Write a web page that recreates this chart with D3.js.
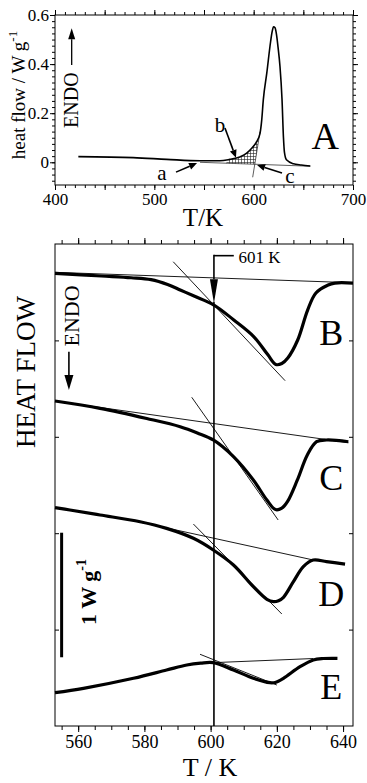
<!DOCTYPE html>
<html>
<head>
<meta charset="utf-8">
<script src="https://cdn.jsdelivr.net/npm/d3@7"></script>
<style>
  body { margin: 0; background: #fff; }
  svg { display: block; font-family: "Liberation Serif", "Times New Roman", serif; }
</style>
</head>
<body>
<svg id="chart" width="367" height="783"></svg>
<script>
// ---- panel A : full scan, heat flow in W/g ----
const scanCurve = [
  [423.5, 0.023], [478.8, 0.019], [512.4, 0.012], [546, 0.006], [566, 0.006],
  [576, 0.012], [586, 0.022], [593, 0.037], [598, 0.057], [603, 0.084],
  [606.4, 0.118], [608.1, 0.172], [609.7, 0.254], [613.2, 0.363], [617, 0.49],
  [618.5, 0.53], [620, 0.552], [621.5, 0.548], [623, 0.52], [624.5, 0.47],
  [626.5, 0.39], [628.5, 0.26], [630, 0.1], [631, 0.04], [633, 0.01],
  [640, -0.006], [648, -0.011], [657, -0.015]
];
const scanBaseline = [[546, 0.0], [657, -0.016]];
const scanOnset = [[606.4, 0.125], [599.0, -0.061]];
const hatchStart = 572;

const scanXTicks = [400, 500, 600, 700];
const scanYTicks = [0, 0.2, 0.4, 0.6];

// letters a, b, c : label position, arrow start, arrow tip
const scanNotes = [
  { text: 'a', at: [507.7, -0.072], from: [521.8, -0.04], to: [543, -0.003] },
  { text: 'b', at: [566.1, 0.123], from: [571.1, 0.14], to: [582.2, 0.018] },
  { text: 'c', at: [636.6, -0.084], from: [628.5, -0.044], to: [603.4, -0.011] }
];

// ---- panel B-E : heat flow (arbitrary offset units, 1 W/g = 1.29) ----
const curveB = [
  [553, 4.696], [567, 4.668], [576, 4.65], [582, 4.63], [587, 4.58], [591, 4.52],
  [595, 4.46], [601, 4.367], [607, 4.212], [613, 4.04], [617.3, 3.85], [619.7, 3.75],
  [621.5, 3.76], [623.3, 3.817], [626.3, 4.004], [629.3, 4.315], [631.8, 4.492],
  [635.5, 4.575], [637.5, 4.595], [643, 4.595]
];
const curveC = [
  [553, 3.371], [566.6, 3.295], [580.7, 3.19], [590.8, 3.105], [596, 3.04],
  [600.8, 2.967], [606.9, 2.794], [612.9, 2.552], [617, 2.344], [619.6, 2.245],
  [621.5, 2.26], [623.2, 2.327], [626.2, 2.552], [629.2, 2.811], [632, 2.949],
  [635, 2.967], [641.6, 2.949]
];
const curveD = [
  [553, 2.265], [557.5, 2.241], [566.6, 2.189], [578.7, 2.119], [586.7, 2.05],
  [594.8, 1.947], [600.8, 1.826], [606.9, 1.67], [612.9, 1.445], [617, 1.314],
  [619, 1.29], [620.5, 1.3], [622, 1.335], [625, 1.497], [628, 1.653],
  [631, 1.722], [635, 1.705], [640.6, 1.68]
];
const curveE = [
  [553, 0.346], [561.6, 0.391], [576.7, 0.495], [586.7, 0.581], [592.8, 0.633],
  [597, 0.652], [600.8, 0.657], [606.9, 0.581], [612.9, 0.495], [617.9, 0.449],
  [619.5, 0.452], [622, 0.495], [627, 0.615], [631, 0.685], [634, 0.7], [638.3, 0.702]
];
const baseB = [[553, 4.706], [643, 4.598]];
const baseC = [[553, 3.371], [641.6, 2.939]];
const baseD = [[578, 2.12], [631, 1.722]];
const baseE = [[600.8, 0.657], [631, 0.70]];
const tanB = [[588.7, 4.816], [622.5, 3.582]];
const tanC = [[594.3, 3.41], [620.4, 2.137]];
const tanD = [[594.8, 2.095], [621.5, 1.162]];
const tanE = [[596.8, 0.744], [620, 0.425]];
const runLabels = ['B', 'C', 'D', 'E'];
const runLabelY = [3.95, 2.45, 1.245, 0.28];
const onsetTemp = 601;

const runXTicks = [560, 580, 600, 620, 640];
const runYTicks = [1, 2, 3, 4];

const svg = d3.select('#chart');

// cross hatch pattern
svg.append('defs').append('pattern')
  .attr('id', 'grid')
  .attr('width', 3).attr('height', 3)
  .attr('patternUnits', 'userSpaceOnUse')
  .append('path')
  .attr('d', 'M0 0.5H3M0.5 0V3')
  .attr('stroke', '#222')
  .attr('stroke-width', 0.6);

// line with filled arrow head at p2
function arrow(g, p1, p2, len, half, width) {
  const dx = p2[0] - p1[0], dy = p2[1] - p1[1];
  const d = Math.hypot(dx, dy), ux = dx / d, uy = dy / d;
  const bx = p2[0] - ux * len, by = p2[1] - uy * len;
  g.append('line')
    .attr('x1', p1[0]).attr('y1', p1[1]).attr('x2', bx).attr('y2', by)
    .attr('stroke', '#000').attr('stroke-width', width);
  g.append('path')
    .attr('d', `M${p2[0]},${p2[1]}L${bx - uy * half},${by + ux * half}L${bx + uy * half},${by - ux * half}Z`)
    .attr('fill', '#000');
}

function cleanAxis(sel) {
  sel.select('.domain').remove();
  sel.selectAll('text').attr('fill', '#000');
  sel.selectAll('line').attr('stroke', '#000');
}

// ================= panel A =================
{
  const m = { left: 55, top: 15, width: 298, height: 170 };
  const x = d3.scaleLinear().domain([400, 700]).range([0, m.width]);
  const y = d3.scaleLinear().domain([-0.0925, 0.6]).range([m.height, 0]);
  const g = svg.append('g').attr('transform', `translate(${m.left},${m.top})`);
  const font = 17;

  // minor ticks
  const xMinor = d3.range(400, 701, 10);
  const yMinor = d3.range(-3, 25).map(i => i * 0.025);
  g.append('g').attr('transform', `translate(0,${m.height})`)
    .call(d3.axisBottom(x).tickValues(xMinor).tickSize(3).tickFormat('')).call(cleanAxis);
  g.append('g')
    .call(d3.axisTop(x).tickValues(xMinor).tickSize(3).tickFormat('')).call(cleanAxis);
  g.append('g')
    .call(d3.axisLeft(y).tickValues(yMinor).tickSize(3).tickFormat('')).call(cleanAxis);
  g.append('g').attr('transform', `translate(${m.width},0)`)
    .call(d3.axisRight(y).tickValues(yMinor).tickSize(3).tickFormat('')).call(cleanAxis);

  // major ticks
  const xMajor = d3.range(400, 701, 50);
  g.append('g').attr('transform', `translate(0,${m.height})`)
    .call(d3.axisBottom(x).tickValues(xMajor).tickSize(5).tickPadding(3)
      .tickFormat(d => scanXTicks.includes(d) ? d : ''))
    .call(cleanAxis)
    .selectAll('text').attr('font-size', font).attr('font-family', 'Liberation Serif');
  g.append('g')
    .call(d3.axisTop(x).tickValues(xMajor).tickSize(5).tickFormat('')).call(cleanAxis);
  g.append('g')
    .call(d3.axisLeft(y).tickValues(scanYTicks).tickSize(5).tickPadding(1)
      .tickFormat(d => d === 0 ? '0' : d.toFixed(1)))
    .call(cleanAxis)
    .selectAll('text').attr('font-size', font).attr('font-family', 'Liberation Serif');
  g.append('g').attr('transform', `translate(${m.width},0)`)
    .call(d3.axisRight(y).tickValues(scanYTicks).tickSize(5).tickFormat('')).call(cleanAxis);

  g.append('rect').attr('width', m.width).attr('height', m.height)
    .attr('fill', 'none').attr('stroke', '#000').attr('stroke-width', 1);

  // hatched area between curve, baseline and onset tangent
  const baseAt = t => scanBaseline[0][1] + (t - scanBaseline[0][0]) *
    (scanBaseline[1][1] - scanBaseline[0][1]) / (scanBaseline[1][0] - scanBaseline[0][0]);
  const [o1, o2] = scanOnset;
  // onset tangent meets baseline
  let lo = o2[0], hi = o1[0];
  const tanAt = t => o2[1] + (t - o2[0]) * (o1[1] - o2[1]) / (o1[0] - o2[0]);
  for (let i = 0; i < 40; i++) {
    const mid = (lo + hi) / 2;
    if (tanAt(mid) > baseAt(mid)) hi = mid; else lo = mid;
  }
  const cross = [lo, baseAt(lo)];
  const hatch = scanCurve.filter(p => p[0] >= hatchStart && p[0] <= o1[0]);
  hatch.unshift([hatchStart, baseAt(hatchStart)]);
  hatch.push(o1, cross);
  g.append('path')
    .attr('d', d3.line().x(d => x(d[0])).y(d => y(d[1]))(hatch) + 'Z')
    .attr('fill', 'url(#grid)').attr('stroke', 'none');

  // baseline and onset tangent
  const thin = d3.line().x(d => x(d[0])).y(d => y(d[1]));
  g.append('path').attr('d', thin(scanBaseline))
    .attr('fill', 'none').attr('stroke', '#333').attr('stroke-width', 0.8);
  g.append('path').attr('d', thin(scanOnset))
    .attr('fill', 'none').attr('stroke', '#333').attr('stroke-width', 0.8);

  // scan curve
  g.append('path')
    .attr('d', d3.line().x(d => x(d[0])).y(d => y(d[1])).curve(d3.curveMonotoneX)(scanCurve))
    .attr('fill', 'none').attr('stroke', '#000').attr('stroke-width', 1.6);

  // a, b, c notes
  scanNotes.forEach(n => {
    g.append('text')
      .attr('x', x(n.at[0])).attr('y', y(n.at[1]))
      .attr('text-anchor', 'middle').attr('font-size', 21).text(n.text);
    arrow(g, [x(n.from[0]), y(n.from[1])], [x(n.to[0]), y(n.to[1])], 8, 3.5, 1.6);
  });

  // ENDO with up arrow
  g.append('text')
    .attr('transform', `translate(${x(423.2)},${y(0.253)}) rotate(-90)`)
    .attr('text-anchor', 'middle').attr('font-size', 20).text('ENDO');
  arrow(g, [x(416.8), y(0.396)], [x(416.8), y(0.546)], 11, 3.5, 1.3);

  // panel letter
  g.append('text')
    .attr('x', x(672)).attr('y', y(0.056))
    .attr('text-anchor', 'middle').attr('font-size', 38).text('A');

  // axis titles
  svg.append('text')
    .attr('x', m.left + m.width / 2 - 1).attr('y', 226)
    .attr('text-anchor', 'middle').attr('font-size', 25).text('T/K');
  const yl = svg.append('text')
    .attr('transform', 'translate(25,95) rotate(-90)')
    .attr('text-anchor', 'middle').attr('font-size', 19);
  yl.append('tspan').text('heat flow / W g');
  yl.append('tspan').attr('font-size', 13).attr('dy', -8).text('-1');
}

// ================= panels B-E =================
{
  const m = { left: 55, top: 244, width: 298, height: 482 };
  const x = d3.scaleLinear().domain([553, 643]).range([0, m.width]);
  const y = d3.scaleLinear().domain([0, 5]).range([m.height, 0]);
  const g = svg.append('g').attr('transform', `translate(${m.left},${m.top})`);

  const xMinor = d3.range(555, 643, 5);
  g.append('g').attr('transform', `translate(0,${m.height})`)
    .call(d3.axisBottom(x).tickValues(xMinor).tickSize(4).tickFormat('')).call(cleanAxis);
  g.append('g')
    .call(d3.axisTop(x).tickValues(xMinor).tickSize(4).tickFormat('')).call(cleanAxis);
  g.append('g').attr('transform', `translate(0,${m.height})`)
    .call(d3.axisBottom(x).tickValues(runXTicks).tickSize(6).tickPadding(3))
    .call(cleanAxis)
    .selectAll('text').attr('font-size', 18).attr('font-family', 'Liberation Serif');
  g.append('g')
    .call(d3.axisTop(x).tickValues(runXTicks).tickSize(6).tickFormat('')).call(cleanAxis);
  g.append('g')
    .call(d3.axisLeft(y).tickValues(runYTicks).tickSize(-4).tickFormat('')).call(cleanAxis);
  g.append('g').attr('transform', `translate(${m.width},0)`)
    .call(d3.axisRight(y).tickValues(runYTicks).tickSize(-4).tickFormat('')).call(cleanAxis);

  g.append('rect').attr('width', m.width).attr('height', m.height)
    .attr('fill', 'none').attr('stroke', '#000').attr('stroke-width', 1);

  const thin = d3.line().x(d => x(d[0])).y(d => y(d[1]));
  const smooth = d3.line().x(d => x(d[0])).y(d => y(d[1])).curve(d3.curveCatmullRom.alpha(0.5));

  const runs = [
    { curve: curveB, base: baseB, tan: tanB },
    { curve: curveC, base: baseC, tan: tanC },
    { curve: curveD, base: baseD, tan: tanD },
    { curve: curveE, base: baseE, tan: tanE }
  ];
  runs.forEach((r, i) => {
    g.append('path').attr('d', thin(r.base))
      .attr('fill', 'none').attr('stroke', '#000').attr('stroke-width', 0.9);
    g.append('path').attr('d', thin(r.tan))
      .attr('fill', 'none').attr('stroke', '#000').attr('stroke-width', 0.9);
    g.append('path').attr('d', smooth(r.curve))
      .attr('fill', 'none').attr('stroke', '#000').attr('stroke-width', 3.2)
      .attr('stroke-linejoin', 'round');
    g.append('text')
      .attr('x', x(636.4)).attr('y', y(runLabelY[i]))
      .attr('text-anchor', 'middle').attr('font-size', 36).text(runLabels[i]);
  });

  // 601 K onset line with elbow arrow
  const elbowY = 4.879;
  g.append('line')
    .attr('x1', x(onsetTemp)).attr('x2', x(onsetTemp))
    .attr('y1', y(4.40)).attr('y2', y(0))
    .attr('stroke', '#000').attr('stroke-width', 1.6);
  g.append('path')
    .attr('d', `M${x(607)},${y(elbowY)}H${x(onsetTemp)}`)
    .attr('stroke', '#000').attr('stroke-width', 1.6).attr('fill', 'none');
  arrow(g, [x(onsetTemp), y(elbowY) - 0.8], [x(onsetTemp), y(4.385)], 24, 4, 1.6);
  g.append('text')
    .attr('x', x(608.4)).attr('y', y(4.803))
    .attr('font-size', 17).text(onsetTemp + ' K');

  // ENDO with down arrow
  g.append('text')
    .attr('transform', `translate(${x(560.1)},${y(4.253)}) rotate(-90)`)
    .attr('text-anchor', 'middle').attr('font-size', 22).text('ENDO');
  arrow(g, [x(557.2), y(3.883)], [x(557.2), y(3.485)], 15, 4.5, 1.6);

  // 1 W/g scale bar
  g.append('line')
    .attr('x1', x(555)).attr('x2', x(555))
    .attr('y1', y(2.005)).attr('y2', y(0.713))
    .attr('stroke', '#000').attr('stroke-width', 3);
  const sb = g.append('text')
    .attr('transform', `translate(${x(565.3)},${y(1.39)}) rotate(-90)`)
    .attr('text-anchor', 'middle').attr('font-size', 22).attr('font-weight', 'bold');
  sb.append('tspan').text('1 W g');
  sb.append('tspan').attr('font-size', 14).attr('dy', -10).text('-1');

  // axis titles
  svg.append('text')
    .attr('x', 210).attr('y', 776)
    .attr('text-anchor', 'middle').attr('font-size', 26).text('T / K');
  svg.append('text')
    .attr('transform', 'translate(35,372) rotate(-90)')
    .attr('text-anchor', 'middle').attr('font-size', 27).text('HEAT FLOW');
}
</script>
</body>
</html>
